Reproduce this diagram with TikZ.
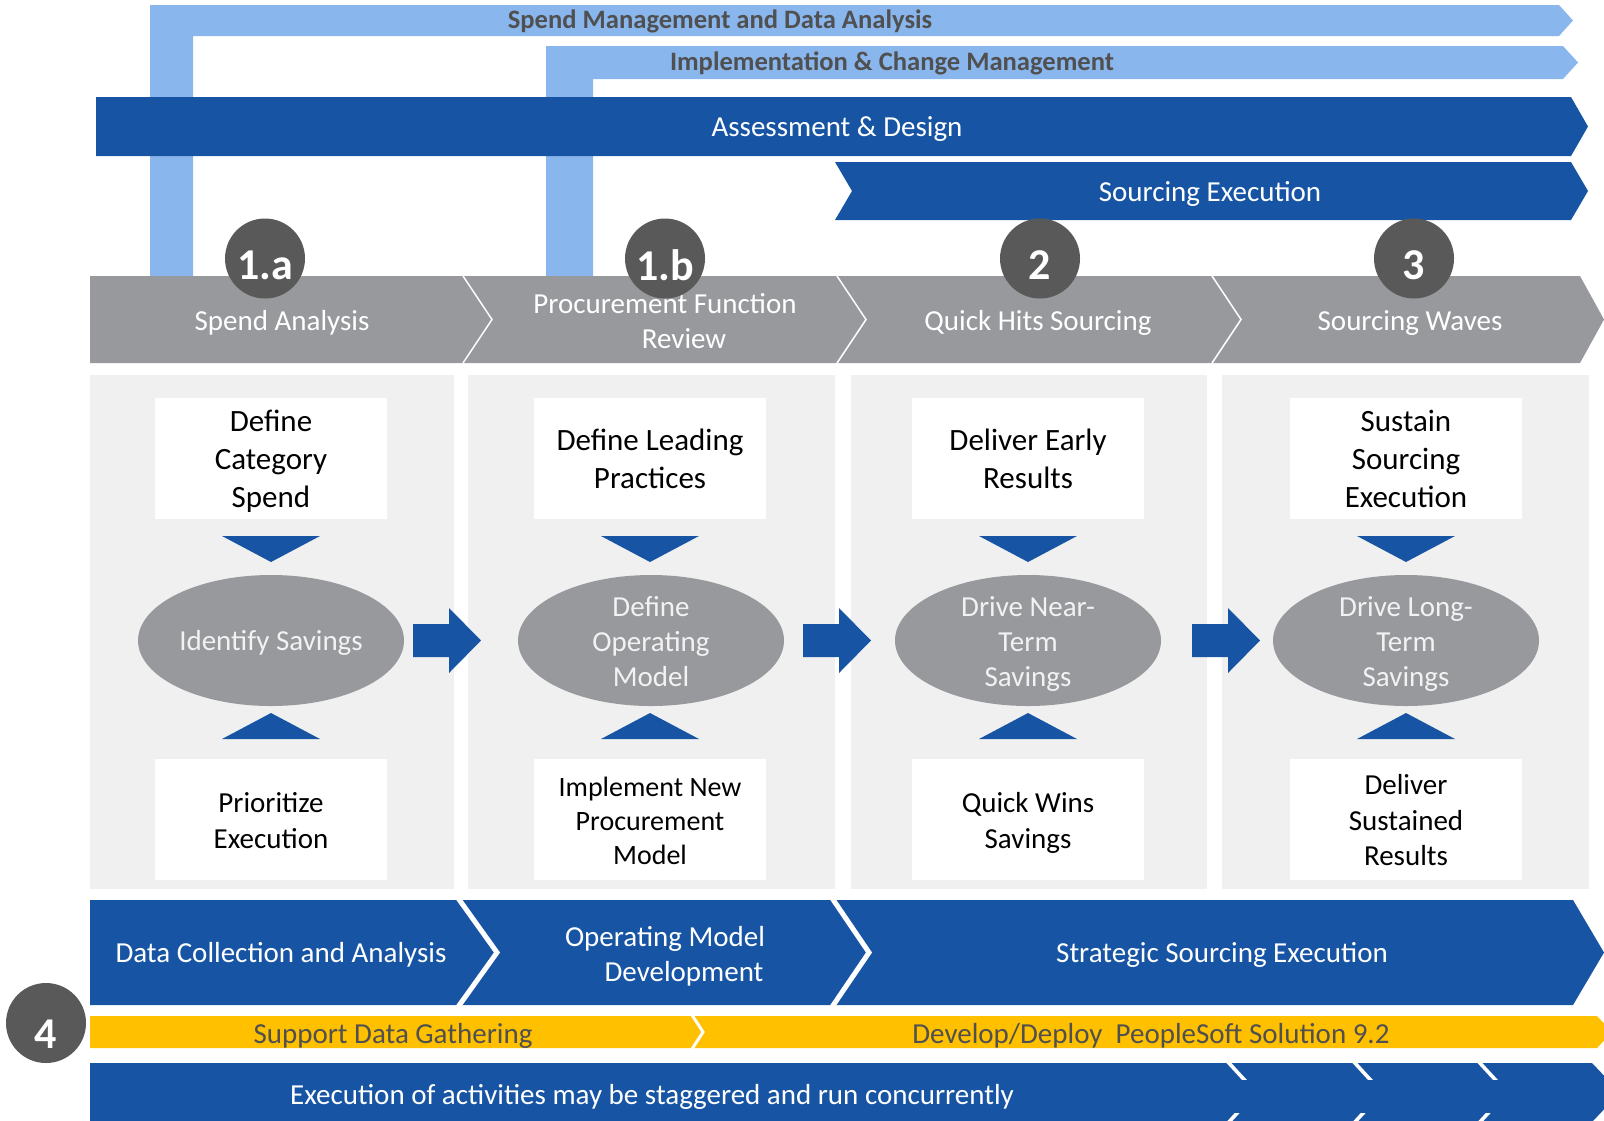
\documentclass[tikz,border=0pt]{standalone}
\usepackage{fontspec}
\setmainfont{Carlito}
\usetikzlibrary{shapes.geometric}
\definecolor{lblue}{HTML}{8AB6EE}
\definecolor{dblue}{HTML}{1755A4}
\definecolor{cgray}{HTML}{98999D}
\definecolor{dgray}{HTML}{595959}
\definecolor{pgray}{HTML}{F0F0F0}
\definecolor{ylw}{HTML}{FFC000}
\definecolor{tgray}{HTML}{505050}
\definecolor{etxt}{HTML}{F2F2F2}
\begin{document}
\begin{tikzpicture}[x=0.5pt,y=-0.5pt,
  txt/.style={font=\fontsize{14.5pt}{17.6pt}\selectfont, align=center, inner sep=0pt,
    execute at begin node=\strut, execute at end node=\strut, yshift=-1.5pt},
  ml/.style={yshift=-1.5pt},
  wtxt/.style={txt, text=white},
  bartxt/.style={font=\bfseries\fontsize{13.3pt}{16pt}\selectfont, text=tgray, inner sep=0pt, yshift=-0.5pt},
  ytxt/.style={txt, text=tgray},
  etext/.style={txt, text=etxt, ml},
  wbox/.style={fill=white, minimum width=116pt, minimum height=60.5pt, inner sep=0pt},
  toptxt/.style={align=center, inner sep=0pt, font=\fontsize{15.5pt}{19pt}\selectfont,
    execute at begin node=\strut, execute at end node=\strut, yshift=-3pt},
  bottxt/.style={toptxt, font=\fontsize{14.5pt}{17.8pt}\selectfont},
  ell/.style={ellipse, fill=cgray, minimum width=133pt, minimum height=65.5pt, inner sep=0pt},
  numc/.style={circle, fill=dgray, minimum size=40pt, inner sep=0pt},
  numt/.style={font=\bfseries\fontsize{22pt}{26pt}\selectfont, text=white, inner sep=0pt},
]
\useasboundingbox (0,0) rectangle (1604,1120);

% light blue frame bars
\fill[lblue] (150,5) -- (1559,5) -- (1573,20.5) -- (1559,36) -- (193,36) -- (193,276) -- (150,276) -- cycle;
\fill[lblue] (546,46) -- (1563,46) -- (1578,62.5) -- (1563,79) -- (593,79) -- (593,276) -- (546,276) -- cycle;
\node[bartxt] (smda) at (720,20) {Spend Management and Data Analysis};
\node[bartxt] (icm) at (892,62) {Implementation \& Change Management};

% dark blue bars
\fill[dblue] (96,97) -- (1571,97) -- (1588,126.5) -- (1571,156) -- (96,156) -- cycle;
\node[wtxt] (ad) at (837,126) {Assessment \& Design};
\fill[dblue] (835,162) -- (1571,162) -- (1588,191) -- (1571,220) -- (835,220) -- (852,191) -- cycle;
\node[wtxt] (se) at (1210,191) {Sourcing Execution};

% gray chevron row
\fill[cgray] (90,276) -- (1580,276) -- (1604,319.5) -- (1580,363) -- (90,363) -- cycle;
\foreach \sx in {463,837,1212}
  \draw[white, line width=0.75pt] (\sx,276) -- ({\sx+29},319.5) -- (\sx,363);
\node[wtxt] (p1) at (282,320) {Spend Analysis};
\node[wtxt, ml] (p2) at (665,320) {Procurement Function\\\hspace*{19pt}Review};
\node[wtxt] (p3) at (1038,320) {Quick Hits Sourcing};
\node[wtxt] (p4) at (1410,320) {Sourcing Waves};

% numbered circles
\node[numc] (c1) at (265,258.5) {};
\node[numc] (c2) at (665,258.5) {};
\node[numc] (c3) at (1040,258.5) {};
\node[numc] (c4) at (1414,258.5) {};
\node[numt, yshift=-3.5pt] (n1) at (c1) {1.a};
\node[numt, yshift=-3.5pt] (n2) at (c2) {1.b};
\node[numt, yshift=-3.5pt] (n3) at (c3) {2};
\node[numt, yshift=-3.5pt] (n4) at (c4) {3};

% panels
\fill[pgray] (90,375) rectangle (454,889);
\fill[pgray] (468,375) rectangle (835,889);
\fill[pgray] (851,375) rectangle (1207,889);
\fill[pgray] (1222,375) rectangle (1589,889);

% boxes
\node[wbox] (t1) at (271,458.5) {};
\node[wbox] (t2) at (650,458.5) {};
\node[wbox] (t3) at (1028,458.5) {};
\node[wbox] (t4) at (1406,458.5) {};
\node[wbox] (b1) at (271,819.5) {};
\node[wbox] (b2) at (650,819.5) {};
\node[wbox] (b3) at (1028,819.5) {};
\node[wbox] (b4) at (1406,819.5) {};
\node[toptxt] (t1t) at (t1) {Define\\Category\\Spend};
\node[toptxt] (t2t) at (t2) {Define Leading\\Practices};
\node[toptxt] (t3t) at (t3) {Deliver Early\\Results};
\node[toptxt] (t4t) at (t4) {Sustain\\Sourcing\\Execution};
\node[bottxt] (b1t) at (b1) {Prioritize\\Execution};
\node[bottxt, font=\fontsize{14pt}{17pt}\selectfont] (b2t) at (b2) {Implement New\\Procurement\\Model};
\node[bottxt] (b3t) at (b3) {Quick Wins\\Savings};
\node[bottxt] (b4t) at (b4) {Deliver\\Sustained\\Results};

% triangles
\foreach \cx in {271,650,1028,1406}{
  \fill[dblue] ({\cx-49},536) -- ({\cx+49},536) -- (\cx,562) -- cycle;
  \fill[dblue] ({\cx-49},739) -- ({\cx+49},739) -- (\cx,713) -- cycle;
}

% ellipses
\node[ell] (e1) at (271,640.5) {};
\node[ell] (e2) at (651,640.5) {};
\node[ell] (e3) at (1028,640.5) {};
\node[ell] (e4) at (1406,640.5) {};
\node[txt, text=etxt] (e1t) at (e1) {Identify Savings};
\node[etext] (e2t) at (e2) {Define\\Operating\\Model};
\node[etext] (e3t) at (e3) {Drive Near-\\Term\\Savings};
\node[etext] (e4t) at (e4) {Drive Long-\\Term\\Savings};

% block arrows
\foreach \ax in {413,803,1192}
  \fill[dblue] (\ax,624) -- ({\ax+36},624) -- ({\ax+36},608) -- ({\ax+68},640.5) -- ({\ax+36},673) -- ({\ax+36},657) -- (\ax,657) -- cycle;

% bottom blue chevron row
\fill[dblue] (90,900) -- (1573,900) -- (1604,952.5) -- (1573,1005) -- (90,1005) -- cycle;
\draw[white, line width=2.5pt] (458,898) -- (497,952.5) -- (458,1007);
\draw[white, line width=2.5pt] (832,898) -- (869,952.5) -- (832,1007);
\node[wtxt] (dca) at (281,952) {Data Collection and Analysis};
\node[wtxt, ml] (omd) at (665,953) {Operating Model\\\hspace*{19pt}Development};
\node[wtxt] (sse) at (1222,952) {Strategic Sourcing Execution};

% circle 4
\node[numc] (c5) at (46,1023) {};
\node[numt, yshift=-5.5pt] (n5) at (c5) {4};

% yellow bar
\fill[ylw] (90,1016) -- (1597,1016) -- (1612,1032) -- (1597,1048) -- (90,1048) -- cycle;
\draw[white, line width=1.5pt] (692,1015) -- (703,1032) -- (692,1049);
\node[ytxt] (sdg) at (393,1033) {Support Data Gathering};
\node[ytxt] (dps) at (1151,1033) {Develop/Deploy\ \ PeopleSoft Solution 9.2};

% bottom bar
\fill[dblue] (90,1063) -- (1592,1063) -- (1620,1092.5) -- (1592,1122) -- (90,1122) -- cycle;
\foreach \sx in {1228,1354,1479}
  \draw[white, line width=1.8pt] (\sx,1062) -- ({\sx+28},1092.5) -- (\sx,1123);
\fill[dblue] (1150,1079.5) rectangle (1560,1112.5);
\node[wtxt] (exe) at (652,1094) {Execution of activities may be staggered and run concurrently};
\end{tikzpicture}
\end{document}
